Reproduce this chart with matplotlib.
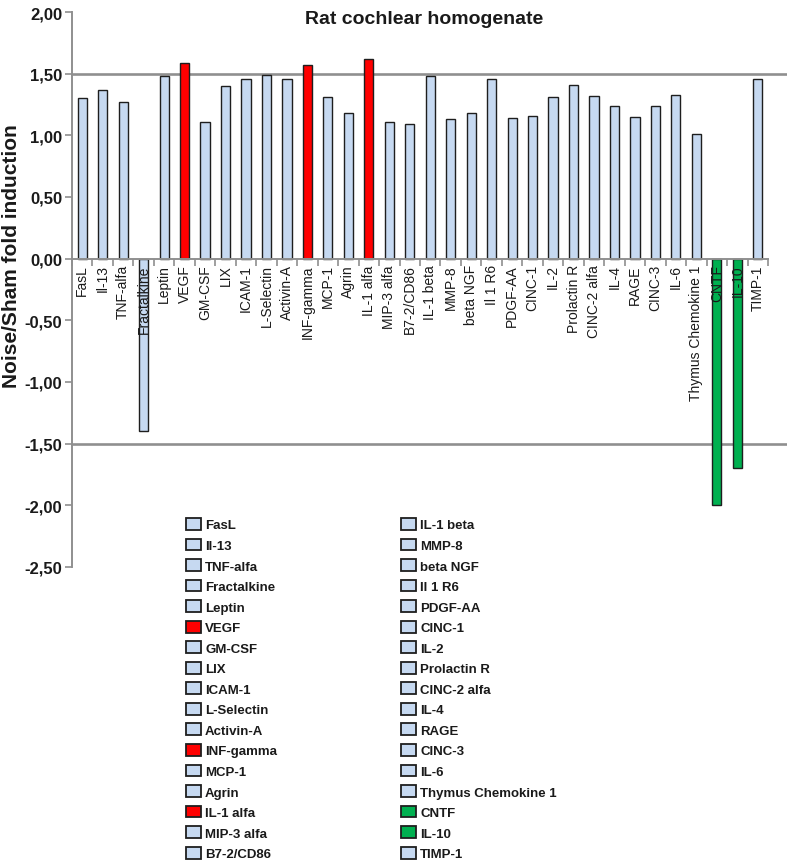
import matplotlib
matplotlib.use('Agg')
import matplotlib.pyplot as plt
from matplotlib.patches import Patch
from matplotlib.ticker import FixedLocator, FuncFormatter

plt.rcParams['font.family'] = ['Liberation Sans', 'DejaVu Sans']

categories = ['FasL', 'Il-13', 'TNF-alfa', 'Fractalkine', 'Leptin', 'VEGF', 'GM-CSF', 'LIX',
              'ICAM-1', 'L-Selectin', 'Activin-A', 'INF-gamma', 'MCP-1', 'Agrin', 'IL-1 alfa',
              'MIP-3 alfa', 'B7-2/CD86', 'IL-1 beta', 'MMP-8', 'beta NGF', 'Il 1 R6', 'PDGF-AA',
              'CINC-1', 'IL-2', 'Prolactin R', 'CINC-2 alfa', 'IL-4', 'RAGE', 'CINC-3', 'IL-6',
              'Thymus Chemokine 1', 'CNTF', 'IL-10', 'TIMP-1']
values = [1.30, 1.37, 1.27, -1.40, 1.48, 1.59, 1.11, 1.40,
          1.46, 1.49, 1.46, 1.57, 1.31, 1.18, 1.62,
          1.11, 1.09, 1.48, 1.13, 1.18, 1.46, 1.14,
          1.16, 1.31, 1.41, 1.32, 1.24, 1.15, 1.24, 1.33,
          1.01, -2.00, -1.70, 1.46]
groups = ['n', 'n', 'n', 'n', 'n', 'r', 'n', 'n',
          'n', 'n', 'n', 'r', 'n', 'n', 'r',
          'n', 'n', 'n', 'n', 'n', 'n', 'n',
          'n', 'n', 'n', 'n', 'n', 'n', 'n', 'n',
          'n', 'g', 'g', 'n']
y_ticks = [-2.5, -2.0, -1.5, -1.0, -0.5, 0.0, 0.5, 1.0, 1.5, 2.0]
thresholds = [1.5, -1.5]

group_colors = {'n': '#c6d9f1', 'r': '#ff0000', 'g': '#00b050'}
colors = [group_colors[g] for g in groups]
edge = '#1e1e1e'
gray = '#8f8f8f'

W, H = 787, 862
fig = plt.figure(figsize=(W / 100, H / 100), dpi=100)
ax_l, ax_r, ax_t, ax_b = 72, 768, 13, 568
ax = fig.add_axes([ax_l / W, 1 - ax_b / H, (ax_r - ax_l) / W, (ax_b - ax_t) / H])

x = list(range(len(categories)))
ax.bar(x, values, width=0.45, color=colors, edgecolor=edge, linewidth=1.0, zorder=1)

ax.set_xlim(-0.5, len(categories) - 0.5)
ax.set_ylim(-2.5, 2.0)

for s in ['top', 'right']:
    ax.spines[s].set_visible(False)
ax.spines['bottom'].set_position(('data', 0))
for s in ['left', 'bottom']:
    ax.spines[s].set_color(gray)
    ax.spines[s].set_linewidth(1.4)

for t in thresholds:
    ax.axhline(t, xmin=0, xmax=(W - ax_l) / (ax_r - ax_l), color=gray, lw=1.9,
               clip_on=False, zorder=0.8)

ax.yaxis.set_major_locator(FixedLocator(y_ticks))
ax.yaxis.set_major_formatter(FuncFormatter(lambda v, p: f"{v:.2f}".replace('.', ',').replace('-0,00', '0,00')))
ax.tick_params(axis='y', length=5, width=1.2, color=gray, labelsize=12, pad=2, labelcolor='#1a1a1a')
for lab in ax.get_yticklabels():
    lab.set_fontweight('bold')

ax.set_xticks(x)
ax.set_xticklabels(categories, rotation=90, fontsize=10, va='top', ha='center')
ax.tick_params(axis='x', which='major', length=0, pad=4, labelcolor='#1a1a1a')
ax.xaxis.set_minor_locator(FixedLocator([i - 0.5 for i in range(len(categories) + 1)]))
ax.tick_params(axis='x', which='minor', length=5, width=1.2, color=gray, direction='out')

fig.text(424 / W, 1 - 19 / H, 'Rat cochlear homogenate', ha='center', va='center',
         fontsize=14, fontweight='bold', color='#1a1a1a')
fig.text(12 / W, 1 - 256 / H, 'Noise/Sham fold induction', rotation=90, ha='center',
         va='center', fontsize=15, fontweight='bold', color='#1a1a1a')

handles = [Patch(facecolor=c, edgecolor=edge, linewidth=1.3) for c in colors]
half = (len(categories) + 1) // 2
leg_kw = dict(frameon=False, borderpad=0, borderaxespad=0, handlelength=1.1, handleheight=1.0,
              handletextpad=0.35, labelspacing=0.54,
              prop={'weight': 'bold', 'size': 9.5}, loc='upper left')
leg1 = fig.legend(handles[:half], categories[:half],
                  bbox_to_anchor=(186 / W, 1 - 519 / H), **leg_kw)
leg2 = fig.legend(handles[half:], categories[half:],
                  bbox_to_anchor=(401 / W, 1 - 519 / H), **leg_kw)
for leg in (leg1, leg2):
    for t in leg.get_texts():
        t.set_color('#1a1a1a')

fig.savefig('out.png', dpi=100)
